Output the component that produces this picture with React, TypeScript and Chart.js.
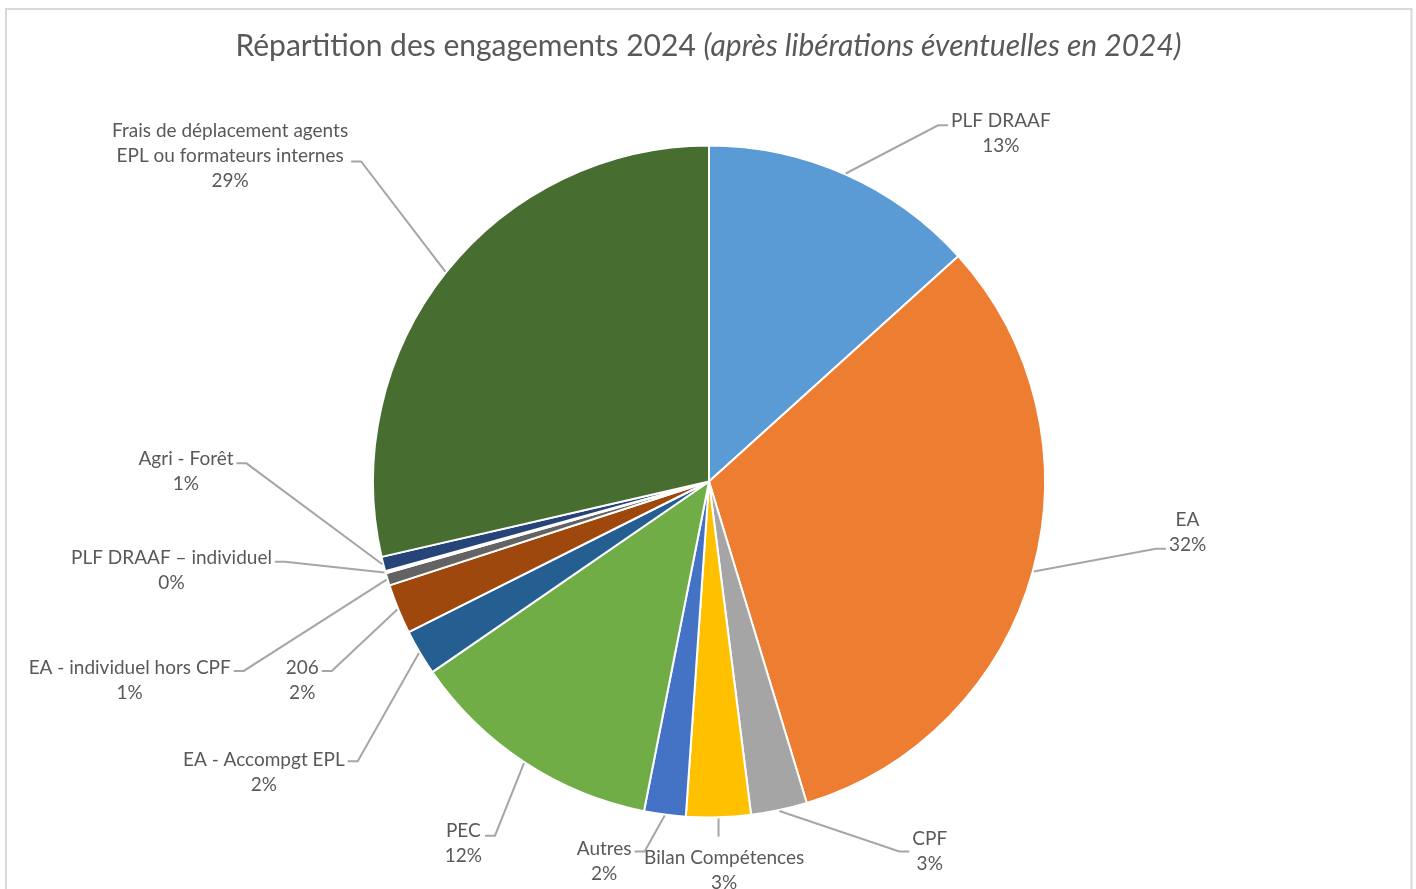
import React, { useEffect, useRef } from 'react';
import { Chart, registerables } from 'chart.js';

Chart.register(...registerables);

// ---------- data ----------
const titleMain = 'Répartition des engagements 2024 ';
const titleItalic = '(après libérations éventuelles en 2024)';

const categories = [
  'PLF DRAAF',
  'EA',
  'CPF',
  'Bilan Compétences',
  'Autres',
  'PEC',
  'EA - Accompgt EPL',
  '206',
  'EA - individuel hors CPF',
  'PLF DRAAF – individuel',
  'Agri - Forêt',
  'Frais de déplacement agents\nEPL ou formateurs internes',
];

// shares of total commitments (percent)
const shares = [13.3, 32.0, 2.7, 3.1, 2.0, 12.3, 2.2, 2.4, 0.6, 0.1, 0.7, 28.6];

const sliceColors = [
  '#5B9BD5', '#ED7D31', '#A5A5A5', '#FFC000', '#4472C4', '#70AD47',
  '#255E91', '#9E480E', '#636363', '#997300', '#264478', '#486D30',
];

// label block placement relative to pie centre, in radius units (dx = block centre x, dy = first baseline)
const labelDx = [0.866, 1.42, 0.655, 0.045, -0.311, -0.729, -1.321, -1.207, -1.719, -1.595, -1.552, -1.421];
const labelDy = [-1.051, 0.131, 1.08, 1.134, 1.107, 1.054, 0.845, 0.571, 0.571, 0.244, -0.048, -1.021];
// vertical position of the leader stub, px from the first baseline
const stubDy = [-2, 23, 6, 0, -3, -1, -5, -3, -3, -2, -2, 24];

// ---------- styles ----------
const FONT = 'Lato, "Open Sans", sans-serif';
const TEXT_COLOR = '#595959';
const LINE_COLOR = '#A6A6A6';
const LABEL_SIZE = 19;
const LINE_H = 25;
const TITLE_SIZE = 30;

const framePlugin = {
  id: 'frame',
  beforeDraw(chart: any) {
    const ctx = chart.ctx as CanvasRenderingContext2D;
    ctx.save();
    ctx.fillStyle = '#FFFFFF';
    ctx.fillRect(0, 0, chart.width, chart.height);
    ctx.strokeStyle = '#D9D9D9';
    ctx.lineWidth = 2;
    ctx.strokeRect(6, 9, 1405.5, 1000);
    ctx.restore();
  },
  afterDraw(chart: any) {
    const ctx = chart.ctx as CanvasRenderingContext2D;
    ctx.save();
    ctx.fillStyle = TEXT_COLOR;
    ctx.textBaseline = 'alphabetic';
    ctx.textAlign = 'left';
    const nFont = `${TITLE_SIZE}px ${FONT}`;
    const iFont = `italic ${TITLE_SIZE}px ${FONT}`;
    ctx.font = nFont;
    const w1 = ctx.measureText(titleMain).width;
    ctx.font = iFont;
    const w2 = ctx.measureText(titleItalic).width;
    const x0 = 708.5 - (w1 + w2) / 2;
    ctx.font = nFont;
    ctx.fillText(titleMain, x0, 56);
    ctx.font = iFont;
    ctx.fillText(titleItalic, x0 + w1, 56);
    ctx.restore();
  },
};

const labelPlugin = {
  id: 'pieLabels',
  afterDatasetsDraw(chart: any) {
    const ctx = chart.ctx as CanvasRenderingContext2D;
    const meta = chart.getDatasetMeta(0);
    const data = chart.data.datasets[0].data as number[];
    const total = data.reduce((a, b) => a + b, 0);
    ctx.save();
    ctx.font = `${LABEL_SIZE}px ${FONT}`;
    meta.data.forEach((arc: any, i: number) => {
      const { x, y, startAngle, endAngle, outerRadius } = arc.getProps(
        ['x', 'y', 'startAngle', 'endAngle', 'outerRadius'],
        true
      );
      const mid = (startAngle + endAngle) / 2;
      const R = outerRadius + 1;
      const ex = x + Math.cos(mid) * R;
      const ey = y + Math.sin(mid) * R;
      const lines = [...categories[i].split('\n'), Math.round((data[i] / total) * 100) + '%'];
      const cx = x + labelDx[i] * R;
      const base0 = y + labelDy[i] * R;
      const w = Math.max(...lines.map((l) => ctx.measureText(l).width));
      const left = cx - w / 2;
      const right = cx + w / 2;
      const gap = 3;
      const stub = 10;
      ctx.strokeStyle = LINE_COLOR;
      ctx.lineWidth = 2;
      ctx.beginPath();
      ctx.moveTo(ex, ey);
      const sy = base0 + stubDy[i];
      if (ex > right) {
        ctx.lineTo(right + gap + stub, sy);
        ctx.lineTo(right + gap, sy);
      } else if (ex < left) {
        ctx.lineTo(left - gap - stub, sy);
        ctx.lineTo(left - gap, sy);
      } else {
        ctx.lineTo(ex, base0 - 27);
      }
      ctx.stroke();
      ctx.fillStyle = TEXT_COLOR;
      ctx.textAlign = 'center';
      ctx.textBaseline = 'alphabetic';
      lines.forEach((l, k) => ctx.fillText(l, cx, base0 + k * LINE_H));
    });
    ctx.restore();
  },
};

export default function App() {
  const ref = useRef<HTMLCanvasElement | null>(null);
  useEffect(() => {
    if (!ref.current) return;
    const chart = new Chart(ref.current, {
      type: 'pie',
      data: {
        labels: categories.map((c) => c.replace('\n', ' ')),
        datasets: [
          {
            data: shares,
            backgroundColor: sliceColors,
            borderColor: '#FFFFFF',
            borderWidth: 2,
          },
        ],
      },
      options: {
        responsive: false,
        animation: false,
        layout: { padding: { left: 372, right: 370, top: 144, bottom: 70 } },
        plugins: {
          legend: { display: false },
          title: { display: false },
          tooltip: { enabled: false },
        },
      },
      plugins: [framePlugin, labelPlugin],
    });
    return () => chart.destroy();
  }, []);
  return (
    <div style={{ position: 'fixed', left: 0, top: 0, width: 1416, height: 889, background: '#fff' }}>
      <canvas ref={ref} width={1416} height={889} style={{ display: 'block' }} />
    </div>
  );
}
